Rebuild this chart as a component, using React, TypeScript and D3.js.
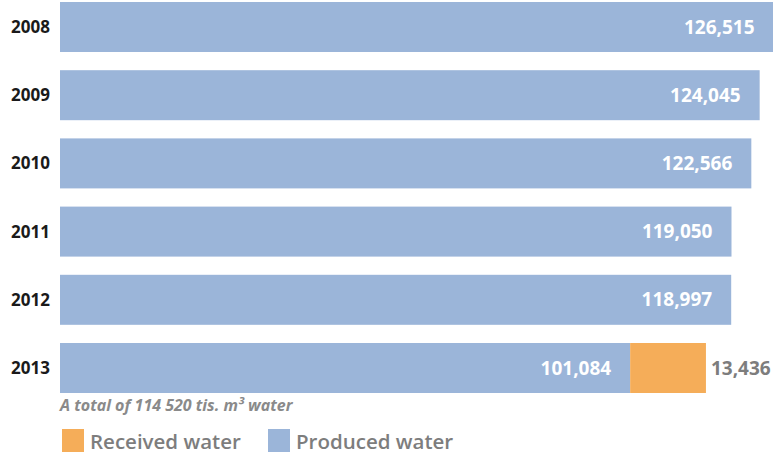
import React from "react";
import * as d3 from "d3";

const years = ["2008", "2009", "2010", "2011", "2012", "2013"];
const produced = [126515, 124045, 122566, 119050, 118997, 101084];
const received = [0, 0, 0, 0, 0, 13436];
const xMax = 126515;
const footnote = "A total of 114 520 tis. m³ water";
const legendItems = [
  { label: "Received water", key: "received" },
  { label: "Produced water", key: "produced" },
];

const BLUE = "#9bb5d9";
const ORANGE = "#f5ad59";
const GRAY = "#7d7d7d";
const FONT = "'Open Sans', 'Noto Sans', sans-serif";

export default function App() {
  const W = 773;
  const H = 455;
  const x = d3.scaleLinear().domain([0, xMax]).range([60, 773.6]);
  const y = d3.scaleBand<string>().domain(years).range([2, 393]).paddingInner(0.2669).paddingOuter(0);
  const fmt = d3.format(",");
  const colors: Record<string, string> = { received: ORANGE, produced: BLUE };

  return (
    <svg width={W} height={H} style={{ position: "fixed", left: 0, top: 0, display: "block" }} fontFamily={FONT}>
      <rect width={W} height={H} fill="#fff" />
      {years.map((yr, i) => {
        const y0 = y(yr)!;
        const bh = y.bandwidth();
        const cy = y0 + bh / 2;
        const pEnd = x(produced[i]);
        const rEnd = x(produced[i] + received[i]);
        return (
          <g key={yr}>
            <text x={50} y={cy} dy="0.35em" textAnchor="end" fontSize={17} fontWeight={700} fill="#1a1a1a">
              {yr}
            </text>
            <rect x={x(0)} y={y0} width={pEnd - x(0)} height={bh} fill={BLUE} />
            {received[i] > 0 && (
              <rect x={pEnd} y={y0} width={rEnd - pEnd} height={bh} fill={ORANGE} />
            )}
            <text x={pEnd - 19} y={cy} dy="0.35em" textAnchor="end" fontSize={19} fontWeight={700} fill="#fff">
              {fmt(produced[i])}
            </text>
            {received[i] > 0 && (
              <text x={rEnd + 5} y={cy} dy="0.35em" textAnchor="start" fontSize={19} fontWeight={700} fill={GRAY}>
                {fmt(received[i])}
              </text>
            )}
          </g>
        );
      })}
      <text x={60} y={411} fontSize={16} fontStyle="italic" fontWeight={700} fill="#8a8a8a">
        {footnote}
      </text>
      {legendItems.map((it, i) => {
        const lx = i === 0 ? 62 : 268;
        return (
          <g key={it.key}>
            <rect x={lx} y={429} width={22} height={23} fill={colors[it.key]} />
            <text x={lx + 28} y={449} fontSize={20.5} fontWeight={600} fill={GRAY}>
              {it.label}
            </text>
          </g>
        );
      })}
    </svg>
  );
}
